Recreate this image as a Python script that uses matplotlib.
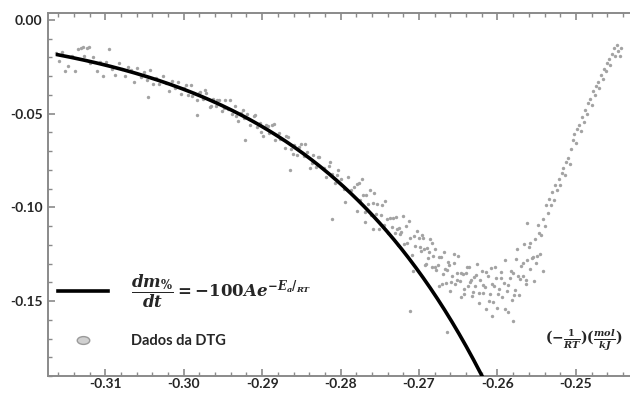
import numpy as np
import matplotlib
matplotlib.use('Agg')
import matplotlib.pyplot as plt
from matplotlib.lines import Line2D
from matplotlib.path import Path
from matplotlib.transforms import Affine2D
from matplotlib.ticker import MultipleLocator

plt.rcParams['font.family'] = ['Lato', 'DejaVu Sans']
plt.rcParams['mathtext.fontset'] = 'custom'
plt.rcParams['mathtext.it'] = 'DejaVu Serif:italic:bold'
plt.rcParams['mathtext.rm'] = 'DejaVu Serif:bold'
plt.rcParams['mathtext.bf'] = 'DejaVu Serif:bold'
plt.rcParams['axes.unicode_minus'] = False

# ---------------- data ----------------
# fitted Arrhenius model: dm/dt = -100 A exp(-Ea/RT), x = -1/RT (mol/kJ)
A_fit = 148.2
Ea_fit = 43.0
model_x_range = [-0.3163, -0.2612]

x_ticks = [-0.31, -0.30, -0.29, -0.28, -0.27, -0.26, -0.25]
x_tick_labels = ['-0.31', '-0.30', '-0.29', '-0.28', '-0.27', '-0.26', '-0.25']
y_ticks = [0.00, -0.05, -0.10, -0.15]
y_tick_labels = ['0.00', '-0.05', '-0.10', '-0.15']

legend_labels = [r'$\dfrac{dm_{\%}}{dt}=-100Ae^{-E_a/_{RT}}$', 'Dados da DTG']
x_label = r'$(-\frac{1}{RT})(\frac{mol}{kJ})$'

# DTG data points
dtg_x_a = [-0.3163, -0.3159, -0.3155, -0.3151, -0.3147, -0.3143, -0.3139, -0.3135, -0.3131, -0.3127,
           -0.3123, -0.3119, -0.3115, -0.3111, -0.3107, -0.3103, -0.3099, -0.3095, -0.3091, -0.3087,
           -0.3083, -0.3079, -0.3075, -0.3071, -0.3067, -0.3063, -0.3059, -0.3055, -0.3051, -0.3047,
           -0.3043, -0.3039, -0.3035, -0.3031, -0.3027, -0.3023, -0.3019, -0.3015, -0.3011, -0.3007,
           -0.3003, -0.2999, -0.2995, -0.2991, -0.2987, -0.2983, -0.2979, -0.2975, -0.2971, -0.2967,
           -0.2963, -0.2959, -0.2955, -0.2951, -0.2947, -0.2943, -0.2939, -0.2935, -0.2931, -0.2927,
           -0.2923, -0.2919, -0.2915, -0.2911, -0.2907, -0.2903, -0.2899, -0.2895, -0.2891, -0.2887,
           -0.2883, -0.2879, -0.2875, -0.2871, -0.2867, -0.2863, -0.2859, -0.2855, -0.2851, -0.2847,
           -0.2843, -0.2839, -0.2835, -0.2831, -0.2827, -0.2823, -0.2819, -0.2815, -0.2811, -0.2807,
           -0.2803, -0.2799, -0.2795, -0.2791, -0.2787, -0.2783, -0.2779]
dtg_y_a = [-0.0174, -0.0217, -0.0170, -0.0273, -0.0247, -0.0190, -0.0274, -0.0157, -0.0151, -0.0194,
           -0.0148, -0.0232, -0.0196, -0.0270, -0.0224, -0.0298, -0.0222, -0.0156, -0.0260, -0.0295,
           -0.0229, -0.0264, -0.0298, -0.0253, -0.0268, -0.0332, -0.0257, -0.0302, -0.0277, -0.0322,
           -0.0268, -0.0343, -0.0308, -0.0344, -0.0300, -0.0335, -0.0381, -0.0327, -0.0363, -0.0329,
           -0.0395, -0.0362, -0.0398, -0.0345, -0.0391, -0.0428, -0.0385, -0.0422, -0.0389, -0.0467,
           -0.0424, -0.0461, -0.0429, -0.0487, -0.0425, -0.0473, -0.0501, -0.0459, -0.0538, -0.0497,
           -0.0525, -0.0504, -0.0563, -0.0513, -0.0572, -0.0552, -0.0621, -0.0561, -0.0601, -0.0562,
           -0.0642, -0.0603, -0.0633, -0.0684, -0.0626, -0.0687, -0.0669, -0.0720, -0.0662, -0.0724,
           -0.0707, -0.0790, -0.0722, -0.0785, -0.0729, -0.0792, -0.0836, -0.0780, -0.0824, -0.0869,
           -0.0803, -0.0848, -0.0904, -0.0839, -0.0905, -0.0891, -0.0877]

dtg_x_b = [-0.2997, -0.2989, -0.2981, -0.2973, -0.2965, -0.2957, -0.2949, -0.2941, -0.2933, -0.2925,
           -0.2917, -0.2909, -0.2901, -0.2893, -0.2885, -0.2877, -0.2869, -0.2861, -0.2853, -0.2845,
           -0.2837, -0.2829, -0.2821, -0.2813, -0.2805]
dtg_y_b = [-0.0345, -0.0408, -0.0392, -0.0376, -0.0460, -0.0425, -0.0471, -0.0427, -0.0514, -0.0481,
           -0.0529, -0.0507, -0.0596, -0.0566, -0.0557, -0.0638, -0.0620, -0.0713, -0.0676, -0.0661,
           -0.0766, -0.0732, -0.0789, -0.0757, -0.0826]

dtg_x_c = [-0.2777, -0.2775, -0.2773, -0.2771, -0.2769, -0.2767, -0.2765, -0.2763, -0.2761, -0.2759,
           -0.2757, -0.2755, -0.2753, -0.2751, -0.2749, -0.2747, -0.2745, -0.2743, -0.2741, -0.2739,
           -0.2737, -0.2735, -0.2733, -0.2731, -0.2729, -0.2727, -0.2725, -0.2723, -0.2721, -0.2719,
           -0.2717, -0.2715, -0.2713, -0.2711, -0.2709, -0.2707, -0.2705, -0.2703]
dtg_y_c = [-0.0872, -0.0960, -0.0848, -0.0936, -0.1025, -0.0933, -0.0983, -0.0909, -0.1043, -0.0979,
           -0.0926, -0.1035, -0.0984, -0.1117, -0.1039, -0.0990, -0.1093, -0.0968, -0.1061, -0.1136,
           -0.1058, -0.1104, -0.1055, -0.1139, -0.1050, -0.1199, -0.1108, -0.1132, -0.1048, -0.1194,
           -0.1100, -0.1189, -0.1072, -0.1162, -0.1253, -0.1155, -0.1205, -0.1128]

dtg_x_d = [-0.2700, -0.2698, -0.2696, -0.2694, -0.2692, -0.2690, -0.2688, -0.2686, -0.2684, -0.2682,
           -0.2680, -0.2678, -0.2676, -0.2674, -0.2672, -0.2670, -0.2668, -0.2666, -0.2664, -0.2662,
           -0.2660, -0.2658, -0.2656, -0.2654, -0.2652, -0.2650, -0.2648, -0.2646, -0.2644, -0.2642,
           -0.2640, -0.2638, -0.2636, -0.2634, -0.2632, -0.2630, -0.2628, -0.2626, -0.2624, -0.2622,
           -0.2620, -0.2618, -0.2616, -0.2614, -0.2612, -0.2610, -0.2608, -0.2606, -0.2604, -0.2602,
           -0.2600, -0.2598, -0.2596, -0.2594, -0.2592, -0.2590, -0.2588, -0.2586, -0.2584, -0.2582,
           -0.2580, -0.2578, -0.2576, -0.2574, -0.2572, -0.2570, -0.2568, -0.2566, -0.2564, -0.2562,
           -0.2560, -0.2558, -0.2556, -0.2554, -0.2552, -0.2550, -0.2548, -0.2546, -0.2544]
dtg_y_d = [-0.1163, -0.1235, -0.1148, -0.1221, -0.1306, -0.1217, -0.1269, -0.1167, -0.1318, -0.1260,
           -0.1224, -0.1332, -0.1306, -0.1418, -0.1263, -0.1354, -0.1240, -0.1402, -0.1336, -0.1306,
           -0.1444, -0.1364, -0.1296, -0.1408, -0.1352, -0.1260, -0.1395, -0.1480, -0.1354, -0.1438,
           -0.1349, -0.1420, -0.1319, -0.1390, -0.1472, -0.1371, -0.1419, -0.1302, -0.1459, -0.1388,
           -0.1340, -0.1457, -0.1423, -0.1545, -0.1365, -0.1462, -0.1325, -0.1505, -0.1421, -0.1378,
           -0.1537, -0.1435, -0.1346, -0.1480, -0.1404, -0.1280, -0.1448, -0.1561, -0.1375, -0.1493,
           -0.1348, -0.1443, -0.1276, -0.1367, -0.1470, -0.1312, -0.1364, -0.1196, -0.1386, -0.1282,
           -0.1210, -0.1331, -0.1272, -0.1393, -0.1169, -0.1260, -0.1092, -0.1249, -0.1145]

dtg_x_e = [-0.2699, -0.2695, -0.2691, -0.2687, -0.2683, -0.2679, -0.2675, -0.2671, -0.2667, -0.2663,
           -0.2659, -0.2655, -0.2651, -0.2647, -0.2643, -0.2639, -0.2635, -0.2631, -0.2627, -0.2623,
           -0.2619, -0.2615, -0.2611, -0.2607, -0.2603, -0.2599, -0.2595, -0.2591, -0.2587, -0.2583,
           -0.2579, -0.2575, -0.2571, -0.2567, -0.2563, -0.2559, -0.2555, -0.2551, -0.2547]
dtg_y_e = [-0.1210, -0.1163, -0.1300, -0.1240, -0.1190, -0.1316, -0.1264, -0.1409, -0.1327, -0.1291,
           -0.1398, -0.1250, -0.1390, -0.1349, -0.1460, -0.1316, -0.1400, -0.1450, -0.1361, -0.1510,
           -0.1417, -0.1347, -0.1500, -0.1407, -0.1321, -0.1464, -0.1375, -0.1543, -0.1414, -0.1338,
           -0.1467, -0.1220, -0.1382, -0.1295, -0.1410, -0.1188, -0.1265, -0.1297, -0.1139]

dtg_x_f = [-0.2542, -0.2540, -0.2538, -0.2536, -0.2534, -0.2532, -0.2530, -0.2528, -0.2526, -0.2524,
           -0.2522, -0.2520, -0.2518, -0.2516, -0.2514, -0.2512, -0.2510, -0.2508, -0.2506, -0.2504,
           -0.2502, -0.2500, -0.2498, -0.2496, -0.2494, -0.2492, -0.2490, -0.2488, -0.2486, -0.2484,
           -0.2482, -0.2480, -0.2478, -0.2476, -0.2474, -0.2472, -0.2470, -0.2468, -0.2466, -0.2464,
           -0.2462, -0.2460, -0.2458, -0.2456, -0.2454, -0.2452, -0.2450, -0.2448, -0.2446, -0.2444,
           -0.2443]
dtg_y_f = [-0.1060, -0.1102, -0.0990, -0.1030, -0.0955, -0.0985, -0.0920, -0.0960, -0.0880, -0.0905,
           -0.0850, -0.0880, -0.0815, -0.0790, -0.0830, -0.0760, -0.0735, -0.0770, -0.0690, -0.0640,
           -0.0610, -0.0655, -0.0580, -0.0560, -0.0595, -0.0520, -0.0545, -0.0480, -0.0500, -0.0445,
           -0.0420, -0.0455, -0.0380, -0.0400, -0.0350, -0.0330, -0.0365, -0.0295, -0.0315, -0.0260,
           -0.0275, -0.0230, -0.0210, -0.0240, -0.0180, -0.0150, -0.0195, -0.0135, -0.0165, -0.0190,
           -0.0150]

dtg_x_out = [-0.3128, -0.3121, -0.3045, -0.2983, -0.2922, -0.2864, -0.2811, -0.2711, -0.2664,
             -0.2562, -0.2542, -0.2580, -0.2607, -0.2794, -0.2779, -0.2769, -0.2759, -0.2728,
             -0.2724, -0.2708]
dtg_y_out = [-0.0145, -0.0142, -0.0410, -0.0505, -0.0640, -0.0800, -0.1064, -0.1553, -0.1665,
             -0.1085, -0.1340, -0.1606, -0.1580, -0.0973, -0.1020, -0.1080, -0.1117, -0.1117,
             -0.1140, -0.1340]

dtg_x = np.array(dtg_x_a + dtg_x_b + dtg_x_c + dtg_x_d + dtg_x_e + dtg_x_f + dtg_x_out)
dtg_y = np.array(dtg_y_a + dtg_y_b + dtg_y_c + dtg_y_d + dtg_y_e + dtg_y_f + dtg_y_out)

# ---------------- figure ----------------
fig = plt.figure(figsize=(6.3, 3.95), dpi=100)
ax = fig.add_axes([48 / 630, 19 / 395, 582 / 630, 363 / 395])

point_color = '#a3a3a3'
ax.scatter(dtg_x, dtg_y, s=6, color=point_color, linewidths=0, zorder=2)

mx = np.linspace(model_x_range[0], model_x_range[1], 300)
my = -100 * A_fit * np.exp(Ea_fit * mx)
ax.plot(mx, my, color='black', lw=2.6, zorder=3, solid_capstyle='butt')

ax.set_xlim(-0.3173, -0.2431)
ax.set_ylim(-0.1900, 0.0037)

spine_col = '#8a8a8a'
for side in ['left', 'top', 'bottom']:
    ax.spines[side].set_color(spine_col)
    ax.spines[side].set_linewidth(1.4)
ax.spines['right'].set_visible(False)

ax.set_xticks(x_ticks)
ax.set_xticklabels(x_tick_labels)
ax.set_yticks(y_ticks)
ax.set_yticklabels(y_tick_labels)
ax.xaxis.set_minor_locator(MultipleLocator(0.002))
ax.yaxis.set_minor_locator(MultipleLocator(0.01))
ax.tick_params(which='both', direction='in', colors=spine_col, top=True, bottom=True, left=True, right=False,
               labelcolor='#262626')
ax.tick_params(which='major', length=5, width=1.2, labelsize=10)
ax.tick_params(axis='y', which='major', pad=4)
ax.tick_params(axis='x', which='major', pad=1.5)
ax.tick_params(which='minor', length=3, width=1.0)
for lab in ax.get_xticklabels() + ax.get_yticklabels():
    lab.set_fontweight('bold')

ax.set_xlabel(x_label, fontsize=10, color='#262626')
ax.xaxis.set_label_coords(0.92, 0.10)
ax.xaxis.label.set_va('center')

# legend
ell = Path.unit_circle().transformed(Affine2D().scale(1.6, 1.0))
h_line = Line2D([], [], color='black', lw=2.6)
h_dot = Line2D([], [], ls='none', marker=ell, ms=9, mfc='#d0d0d0', mec='#9a9a9a', mew=1.0)
leg = ax.legend([h_line, h_dot], legend_labels, loc='lower left', bbox_to_anchor=(0.008, 0.06),
                frameon=False, handlelength=3.4, handletextpad=1.6, labelspacing=1.7,
                borderaxespad=0, prop={'family': ['Lato', 'DejaVu Sans'], 'weight': 'bold', 'size': 10.5})
leg.get_texts()[0].set_fontsize(12)
for t in leg.get_texts():
    t.set_color('#262626')

fig.savefig('out.png', dpi=100)
